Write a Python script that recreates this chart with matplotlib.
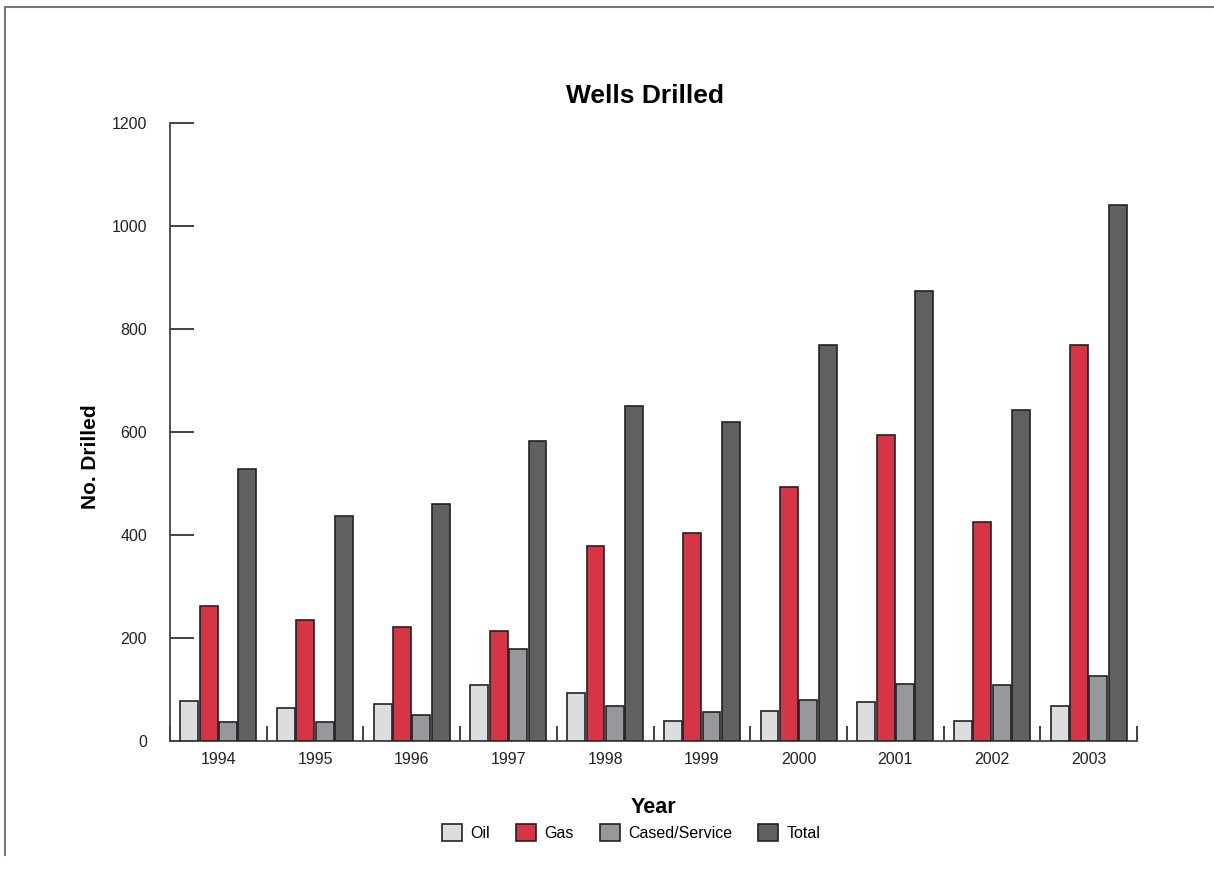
import numpy as np
import matplotlib

matplotlib.use("Agg")
import matplotlib.pyplot as plt
from matplotlib.lines import Line2D


YEARS = ["1994", "1995", "1996", "1997", "1998", "1999", "2000", "2001", "2002", "2003"]
OIL = [78, 65, 71, 109, 93, 38, 58, 75, 39, 68]
GAS = [262, 234, 221, 213, 379, 404, 493, 594, 426, 769]
CASED = [36, 36, 50, 178, 67, 56, 80, 111, 109, 126]
TOTAL = [528, 437, 460, 583, 651, 619, 769, 874, 642, 1040]

SERIES = ["Oil", "Gas", "Cased/Service", "Total"]
COLORS = ["#dcdddf", "#d63447", "#97989c", "#5f6062"]


def main():
    plt.rcParams["font.family"] = ["Liberation Sans", "DejaVu Sans"]

    fig = plt.figure(figsize=(12.14, 8.71), dpi=100)
    ax = fig.add_axes([170 / 1214, 1 - 741 / 871, (1137 - 170) / 1214, (741 - 123) / 871])

    x = np.arange(len(YEARS))
    values = [OIL, GAS, CASED, TOTAL]
    pitch = 0.2
    for i, (name, vals, color) in enumerate(zip(SERIES, values, COLORS)):
        ax.bar(x + (i - 1.5) * pitch, vals, width=0.185, color=color,
               edgecolor="#222222", linewidth=1.2, label=name, zorder=3)

    ax.set_xlim(-0.5, len(YEARS) - 0.5)
    ax.set_ylim(0, 1200)
    ax.set_yticks(np.arange(0, 1201, 200))

    ax.set_xticks(x)
    ax.set_xticklabels(YEARS, fontsize=11.5, color="#222222")
    ax.set_xticks(np.arange(-0.5, len(YEARS), 1.0), minor=True)
    ax.tick_params(axis="x", which="major", length=0, pad=8)
    ax.tick_params(axis="x", which="minor", direction="in", length=11, width=1.3, color="#333333")
    ax.tick_params(axis="y", direction="in", length=17, width=1.3, color="#333333",
                   labelsize=11.5, labelcolor="#222222", pad=16.5)

    for side in ["top", "right"]:
        ax.spines[side].set_visible(False)
    for side in ["left", "bottom"]:
        ax.spines[side].set_color("#444444")
        ax.spines[side].set_linewidth(1.3)

    ax.set_xlabel("Year", fontsize=15.5, fontweight="bold")
    ax.xaxis.set_label_coords(0.5, (741 - 796.7) / 618)
    ax.set_ylabel("No. Drilled", fontsize=15, fontweight="bold")
    ax.yaxis.set_label_coords((100 - 170) / 967, 0.46)
    fig.text(645 / 1214, 1 - 96 / 871, "Wells Drilled", ha="center", va="center",
             fontsize=19, fontweight="bold")

    fig.legend(loc="center", bbox_to_anchor=(0.52, 1 - 832.5 / 871), ncol=4,
               frameon=False, fontsize=11.5, handlelength=1.25, handleheight=1.2,
               columnspacing=1.6, handletextpad=0.55)

    # thin frame around the figure, visible on the left and top
    frame_color = "#777777"
    fig.add_artist(Line2D([5 / 1214, 5 / 1214], [1 - 855 / 871, 1 - 7 / 871],
                          transform=fig.transFigure, color=frame_color, linewidth=1.5))
    fig.add_artist(Line2D([5 / 1214, 1.0], [1 - 7 / 871, 1 - 7 / 871],
                          transform=fig.transFigure, color=frame_color, linewidth=1.5))

    fig.savefig("out.png", dpi=100)
    plt.close(fig)


if __name__ == "__main__":
    main()
